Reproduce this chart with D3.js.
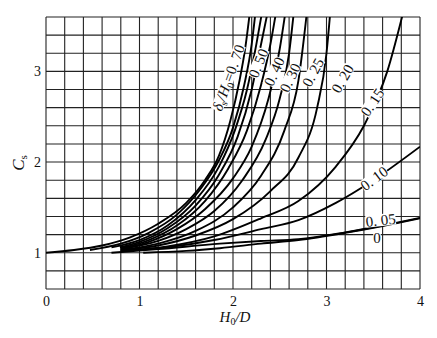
<!DOCTYPE html>
<html>
<head>
<meta charset="utf-8">
<script src="https://cdn.jsdelivr.net/npm/d3@7/dist/d3.min.js"></script>
<style>
  html, body { margin: 0; padding: 0; background: #fff; }
  svg { display: block; }
  text { font-family: "Liberation Serif", "DejaVu Serif", serif; fill: #111; }
</style>
</head>
<body>
<svg id="chart" width="437" height="338"></svg>
<script>
// Axis ticks and grid
const xTicks = [0, 1, 2, 3, 4];
const yTicks = [1, 2, 3];
const gridStep = 0.2;

// δs/H0 of each curve
const ratios = ["0.70", "0.60", "0.50", "0.45", "0.40", "0.35", "0.30", "0.25", "0.20", "0.15", "0.10", "0.05", "0"];

// Cs against H0/D, one list of [H0/D, Cs] points per δs/H0
const c070 = [[0,1.00],[0.3,1.03],[0.6,1.08],[0.9,1.17],[1.2,1.32],[1.5,1.55],[1.7,1.80],[1.85,2.07],[1.97,2.45],[2.07,2.9],[2.13,3.25],[2.18,3.65]];
const c060 = [[0.47,1.03],[0.8,1.10],[1.1,1.22],[1.4,1.42],[1.65,1.70],[1.85,2.02],[2.0,2.38],[2.12,2.85],[2.2,3.3],[2.24,3.65]];
const c050 = [[0.7,1.06],[1.0,1.14],[1.3,1.30],[1.6,1.58],[1.85,1.95],[2.02,2.35],[2.15,2.8],[2.25,3.3],[2.31,3.65]];
const c045 = [[0.79,1.06],[1.0,1.12],[1.3,1.27],[1.6,1.52],[1.85,1.86],[2.05,2.28],[2.2,2.8],[2.3,3.3],[2.37,3.65]];
const c040 = [[0.8,1.05],[1.1,1.14],[1.4,1.30],[1.7,1.57],[1.95,1.93],[2.15,2.35],[2.3,2.85],[2.4,3.3],[2.46,3.65]];
const c035 = [[0.8,1.04],[1.1,1.12],[1.4,1.26],[1.7,1.48],[2.0,1.82],[2.2,2.17],[2.38,2.7],[2.5,3.25],[2.56,3.65]];
const c030 = [[0.8,1.04],[1.2,1.13],[1.5,1.26],[1.8,1.46],[2.1,1.80],[2.35,2.25],[2.5,2.7],[2.6,3.2],[2.65,3.65]];
const c025 = [[0.8,1.03],[1.2,1.10],[1.6,1.24],[2.0,1.50],[2.3,1.85],[2.55,2.35],[2.7,2.9],[2.79,3.65]];
const c020 = [[0.8,1.03],[1.2,1.08],[1.6,1.19],[2.0,1.37],[2.4,1.68],[2.7,2.05],[2.9,2.6],[3.0,3.2],[3.04,3.65]];
const c015 = [[0.8,1.02],[1.3,1.07],[1.8,1.18],[2.3,1.38],[2.7,1.57],[3.1,1.95],[3.4,2.4],[3.65,3.0],[3.82,3.65]];
const c010 = [[0.8,1.02],[1.3,1.06],[1.8,1.14],[2.3,1.26],[2.7,1.36],[3.1,1.55],[3.5,1.80],[4.0,2.17]];
const c005 = [[0.7,1.00],[1.2,1.04],[1.86,1.10],[2.3,1.13],[2.7,1.15],[3.2,1.225],[3.6,1.30],[4.0,1.385]];
const c000 = [[1.04,1.00],[1.5,1.02],[1.86,1.05],[2.3,1.10],[2.7,1.14],[3.2,1.22],[3.6,1.295],[4.0,1.38]];

const series = [c070, c060, c050, c045, c040, c035, c030, c025, c020, c015, c010, c005, c000];

// Printed curve labels: which curve, anchor in chart units, text angle
const labelCurves = [0, 2, 4, 6, 7, 8, 9, 10, 11, 12];
const labelAnchors = [[1.95,2.93],[2.27,3.09],[2.44,3.0],[2.61,2.93],[2.855,2.99],[3.17,2.92],[3.49,2.66],[3.51,1.82],[3.58,1.36],[3.54,1.17]];
const labelAngles = [-70, -68, -66, -64, -62, -60, -56, -37, -6, 0];

const width = 437, height = 338;
const margin = { left: 46, right: 17, top: 17, bottom: 49 };

const svg = d3.select("#chart");
const x = d3.scaleLinear().domain([0, 4]).range([margin.left, width - margin.right]);
const y = d3.scaleLinear().domain([0.6, 3.6]).range([height - margin.bottom, margin.top]);

const gx = d3.range(0, 4 + 1e-9, gridStep);
const gy = d3.range(0.6, 3.6 + 1e-9, gridStep);

// grid
const grid = svg.append("g").attr("stroke", "#222").attr("stroke-width", 1.1);
grid.selectAll("line.v").data(gx).join("line")
  .attr("x1", d => x(d)).attr("x2", d => x(d))
  .attr("y1", y(0.6)).attr("y2", y(3.6));
grid.selectAll("line.h").data(gy).join("line")
  .attr("x1", x(0)).attr("x2", x(4))
  .attr("y1", d => y(d)).attr("y2", d => y(d));

// axes (labels only; the grid frames the plot)
const xAxis = d3.axisBottom(x).tickValues(xTicks).tickSize(0).tickPadding(7).tickFormat(d3.format("d"));
const yAxis = d3.axisLeft(y).tickValues(yTicks).tickSize(0).tickPadding(5).tickFormat(d3.format("d"));
const ax = svg.append("g").attr("transform", `translate(0,${y(0.6)})`).call(xAxis);
const ay = svg.append("g").attr("transform", `translate(${x(0)},0)`).call(yAxis);
[ax, ay].forEach(g => {
  g.select(".domain").remove();
  g.selectAll("text").attr("font-size", 14).attr("font-family", "Liberation Serif, serif").attr("fill", "#111");
});

// axis titles
svg.append("text")
  .attr("x", 235).attr("y", 322)
  .attr("text-anchor", "middle").attr("font-size", 15)
  .call(t => {
    t.append("tspan").attr("font-style", "italic").text("H");
    t.append("tspan").attr("font-size", 10).attr("dy", 3).text("0");
    t.append("tspan").attr("dy", -3).attr("font-style", "italic").text("/D");
  });
svg.append("text")
  .attr("transform", "translate(24,163) rotate(-90)")
  .attr("text-anchor", "middle").attr("font-size", 17)
  .call(t => {
    t.append("tspan").attr("font-style", "italic").text("C");
    t.append("tspan").attr("font-size", 11).attr("dy", 3).text("s");
  });

// curves
svg.append("clipPath").attr("id", "plot").append("rect")
  .attr("x", x(0)).attr("y", y(3.6)).attr("width", x(4) - x(0)).attr("height", y(0.6) - y(3.6));
const line = d3.line().x(d => x(d[0])).y(d => y(d[1])).curve(d3.curveMonotoneX);
svg.append("g").attr("clip-path", "url(#plot)")
  .selectAll("path").data(series).join("path")
  .attr("d", line)
  .attr("fill", "none").attr("stroke", "#000").attr("stroke-width", 1.9);

// curve labels, each on a narrow white strip that breaks the lines behind it
const labelLayer = svg.append("g");
labelCurves.forEach((ci, k) => {
  const [ux, uy] = labelAnchors[k];
  const g = labelLayer.append("g")
    .attr("transform", `translate(${x(ux)},${y(uy)}) rotate(${labelAngles[k]})`);
  const bg = g.append("rect").attr("fill", "#fff");
  const t = g.append("text")
    .attr("text-anchor", "middle").attr("dy", "0.35em")
    .attr("font-size", 15);
  const txt = ratios[ci] === "0" ? "0" : ratios[ci].replace(".", ". ");
  if (ci === 0) {
    t.append("tspan").attr("font-style", "italic").text("δ");
    t.append("tspan").attr("font-size", 10).attr("dy", 3).text("s");
    t.append("tspan").attr("dy", -3).attr("font-style", "italic").text("/H");
    t.append("tspan").attr("font-size", 10).attr("dy", 3).text("0");
    t.append("tspan").attr("dy", -3).text("=" + txt);
  } else {
    t.text(txt);
  }
  const b = t.node().getBBox();
  bg.attr("x", b.x).attr("y", -6).attr("width", b.width).attr("height", 12);
});
</script>
</body>
</html>
